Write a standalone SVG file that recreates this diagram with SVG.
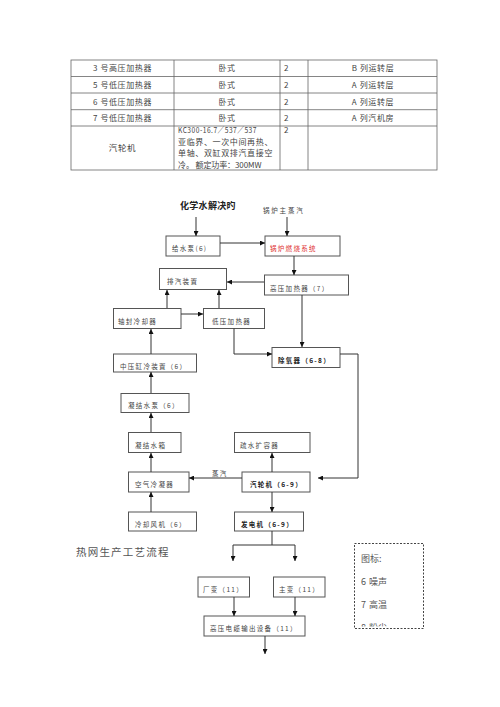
<svg xmlns="http://www.w3.org/2000/svg" width="500" height="707" viewBox="0 0 500 707">
<defs>
<style>
.t{font-family:"Noto Sans CJK SC","Liberation Serif",serif;font-size:8px;fill:#444;letter-spacing:0.6px}
.tl{fill:none;stroke:#666;stroke-width:0.8}
.b{fill:#fff;stroke:#555;stroke-width:1}
.n{font-family:"Noto Sans CJK SC","Liberation Serif",serif;font-size:6.5px;fill:#444;letter-spacing:1.3px}
.bd{font-weight:bold;fill:#222}
.c{fill:none;stroke:#333;stroke-width:1}
.lg{font-family:"Noto Sans CJK SC","Liberation Serif",serif;font-size:9px;fill:#555}
</style>
<marker id="a" viewBox="0 0 10 10" refX="10" refY="5" markerWidth="5" markerHeight="5" orient="auto" markerUnits="userSpaceOnUse"><path d="M0,0 L10,5 L0,10 z" fill="#111"/></marker>
<clipPath id="lgclip"><rect x="350" y="540" width="80" height="86.5"/></clipPath>
</defs>

<g id="table">
<rect class="tl" x="71" y="60" width="366" height="110"/>
<path class="tl" d="M71,76.5H437M71,93H437M71,109.7H437M71,126H437M174,60V170M280,60V170M308,60V170"/>
<text class="t" x="122.5" y="71" text-anchor="middle">3 号高压加热器</text>
<text class="t" x="227" y="71" text-anchor="middle">卧式</text>
<text class="t" x="284" y="71">2</text>
<text class="t" x="373" y="71" text-anchor="middle">B 列运转层</text>
<text class="t" x="122.5" y="88" text-anchor="middle">5 号低压加热器</text>
<text class="t" x="227" y="88" text-anchor="middle">卧式</text>
<text class="t" x="284" y="88">2</text>
<text class="t" x="373" y="88" text-anchor="middle">A 列运转层</text>
<text class="t" x="122.5" y="104.5" text-anchor="middle">6 号低压加热器</text>
<text class="t" x="227" y="104.5" text-anchor="middle">卧式</text>
<text class="t" x="284" y="104.5">2</text>
<text class="t" x="373" y="104.5" text-anchor="middle">A 列运转层</text>
<text class="t" x="122.5" y="121" text-anchor="middle">7 号低压加热器</text>
<text class="t" x="227" y="121" text-anchor="middle">卧式</text>
<text class="t" x="284" y="121">2</text>
<text class="t" x="373" y="121" text-anchor="middle">A 列汽机房</text>
<text class="t" x="122.5" y="151" text-anchor="middle" style="font-size:8.5px">汽轮机</text>
<text class="t" x="178" y="133" textLength="79" lengthAdjust="spacingAndGlyphs">KC300-16.7／537／537</text>
<text class="t" x="178" y="144.5" textLength="95">亚临界、一次中间再热、</text>
<text class="t" x="178" y="156" textLength="95">单轴、双缸双排汽直接空</text>
<text class="t" x="178" y="168" textLength="84">冷。 额定功率：300MW</text>
<text class="t" x="284" y="133">2</text>
</g>

<g id="src1"><text class="t bd" x="180" y="208.5" style="font-size:9px;letter-spacing:0.3px">化学水解决旳</text></g>
<g id="src2"><text class="n" x="263" y="213" style="letter-spacing:1.8px">锅炉主蒸汽</text></g>

<g id="n_feedpump"><rect class="b" x="166" y="236" width="54" height="20"/><text class="n" x="172" y="250.5">给水泵(6)</text></g>
<g id="n_boiler"><rect class="b" x="265" y="236" width="75" height="20"/><text class="n" x="270" y="250.5" style="fill:#e03030">锅炉燃烧系统</text></g>
<g id="n_exhaust"><rect class="b" x="159.5" y="268.5" width="67" height="21"/><text class="n" x="167" y="283.5">排汽装置</text></g>
<g id="n_hph"><rect class="b" x="264.5" y="275" width="84" height="20"/><text class="n" x="270" y="291">高压加热器（7）</text></g>
<g id="n_gland"><rect class="b" x="113.5" y="308.5" width="67.5" height="20"/><text class="n" x="118" y="324">轴封冷却器</text></g>
<g id="n_lph"><rect class="b" x="203.5" y="308.5" width="61" height="20"/><text class="n" x="212" y="324">低压加热器</text></g>
<g id="n_deaer"><rect class="b" x="272" y="347.5" width="68" height="20"/><text class="n bd" x="278" y="362.5">除氧器（6-8）</text></g>
<g id="n_ip"><rect class="b" x="113.5" y="354" width="83" height="18"/><text class="n" x="120" y="368.5">中压缸冷装置（6）</text></g>
<g id="n_cpump"><rect class="b" x="121" y="393.5" width="68" height="19"/><text class="n" x="128" y="408">凝结水泵（6）</text></g>
<g id="n_ctank"><rect class="b" x="128.5" y="432.5" width="52.5" height="20"/><text class="n" x="135" y="447.5">凝结水箱</text></g>
<g id="n_drain"><rect class="b" x="234.5" y="432.5" width="75.5" height="20"/><text class="n" x="240" y="447.5">疏水扩容器</text></g>
<g id="n_acc"><rect class="b" x="128.5" y="472" width="60.5" height="20"/><text class="n" x="135" y="487">空气冷凝器</text></g>
<g id="n_turbine"><rect class="b" x="242" y="472" width="68" height="20"/><text class="n bd" x="250" y="487">汽轮机（6-9）</text></g>
<g id="n_fan"><rect class="b" x="128.5" y="512" width="68" height="19"/><text class="n" x="135" y="527">冷却风机（6）</text></g>
<g id="n_gen"><rect class="b" x="234.5" y="512" width="69" height="19"/><text class="n bd" x="241" y="527">发电机（6-9）</text></g>
<g id="n_plant"><rect class="b" x="198" y="577" width="51.5" height="20"/><text class="n" x="203" y="592">厂变（11）</text></g>
<g id="n_main"><rect class="b" x="273.5" y="577" width="51.5" height="20"/><text class="n" x="279" y="592">主变（11）</text></g>
<g id="n_hv"><rect class="b" x="204" y="616" width="101" height="20"/><text class="n" x="210" y="631">高压电缆输出设备（11）</text></g>

<g id="title"><text class="t" x="76" y="556" style="font-size:10.5px;letter-spacing:1.2px;fill:#555">热网生产工艺流程</text></g>

<g id="legend">
<rect x="354.5" y="543.5" width="69" height="85" fill="none" stroke="#444" stroke-width="1" stroke-dasharray="2,1.5"/>
<g clip-path="url(#lgclip)">
<text class="lg" x="361" y="562">图标:</text>
<text class="lg" x="361" y="585">6</text><text class="lg" x="369" y="585">噪声</text>
<text class="lg" x="361" y="608">7</text><text class="lg" x="369" y="608">高温</text>
<text class="lg" x="361" y="631">8</text><text class="lg" x="369" y="631">粉尘</text>
</g>
</g>

<g id="connectors">
<path class="c" d="M196,217V236" marker-end="url(#a)"/>
<path class="c" d="M287,217V236" marker-end="url(#a)"/>
<path class="c" d="M220,243H265" marker-end="url(#a)"/>
<path class="c" d="M294,256V275" marker-end="url(#a)"/>
<path class="c" d="M264,282H227" marker-end="url(#a)"/>
<path class="c" d="M167,308V290" marker-end="url(#a)"/>
<path class="c" d="M219,308V290" marker-end="url(#a)"/>
<path class="c" d="M181,314H203" marker-end="url(#a)"/>
<path class="c" d="M234,328.5V354H272" marker-end="url(#a)"/>
<path class="c" d="M302,295V347" marker-end="url(#a)"/>
<path class="c" d="M340,354H358V478H318" marker-end="url(#a)"/>
<path class="c" d="M151,354V329" marker-end="url(#a)"/>
<path class="c" d="M151,393V372" marker-end="url(#a)"/>
<path class="c" d="M151,432V413" marker-end="url(#a)"/>
<path class="c" d="M151,472V453" marker-end="url(#a)"/>
<path class="c" d="M272,472V453" marker-end="url(#a)"/>
<path class="c" d="M242,478H189" marker-end="url(#a)"/>
<text class="n" x="212" y="475.5">蒸汽</text>
<path class="c" d="M151,512V492" marker-end="url(#a)"/>
<path class="c" d="M272,492V512" marker-end="url(#a)"/>
<path class="c" d="M272,531V545H233V561" marker-end="url(#a)"/>
<path class="c" d="M272,545H295V561" marker-end="url(#a)"/>
<path class="c" d="M234,597V616" marker-end="url(#a)"/>
<path class="c" d="M295,597V616" marker-end="url(#a)"/>
<path class="c" d="M265,636V654" marker-end="url(#a)"/>
</g>
</svg>
